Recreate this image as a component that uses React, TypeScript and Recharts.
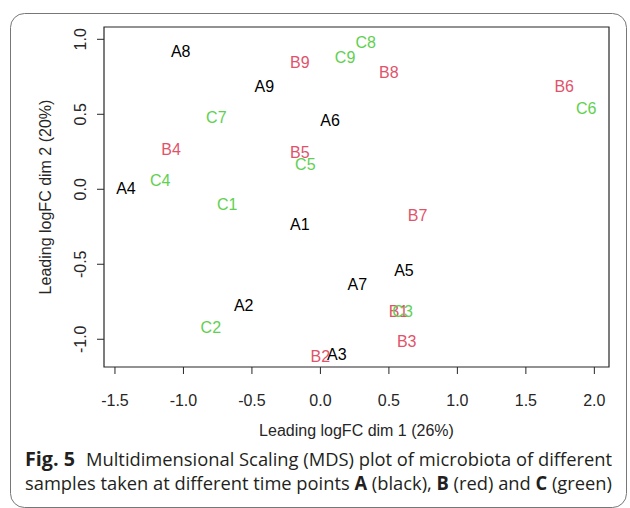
import React from 'react';
import { ScatterChart, Scatter, XAxis, YAxis, ReferenceArea } from 'recharts';

// MDS coordinates (dim 1 = x, dim 2 = y), samples 1..9
const aDim1 = [-0.15, -0.56, 0.12, -1.42, 0.61, 0.07, 0.27, -1.02, -0.41];
const aDim2 = [-0.23, -0.77, -1.1, 0.01, -0.54, 0.46, -0.63, 0.92, 0.69];
const bDim1 = [0.57, 0.0, 0.63, -1.09, -0.15, 1.78, 0.71, 0.5, -0.15];
const bDim2 = [-0.81, -1.11, -1.01, 0.27, 0.25, 0.69, -0.17, 0.78, 0.85];
const cDim1 = [-0.68, -0.8, 0.6, -1.17, -0.11, 1.94, -0.76, 0.33, 0.18];
const cDim2 = [-0.1, -0.92, -0.81, 0.06, 0.17, 0.54, 0.48, 0.98, 0.88];

const xTicks = [-1.5, -1.0, -0.5, 0, 0.5, 1.0, 1.5, 2.0];
const yTicks = [-1.0, -0.5, 0, 0.5, 1.0];
const xDomain = [-1.58, 2.107];
const yDomain = [-1.185, 1.082];

const build = (prefix: string, xs: number[], ys: number[]) =>
  xs.map((x, i) => ({ x, y: ys[i], name: `${prefix}${i + 1}` }));

const groupA = build('A', aDim1, aDim2);
const groupB = build('B', bDim1, bDim2);
const groupC = build('C', cDim1, cDim2);

const FONT = '"Liberation Sans", Arial, sans-serif';
const CAPTION_FONT = '"Open Sans", sans-serif';
const AXIS_INK = '#262626';

const makeLabel = (color: string) => (props: any) => {
  const { cx, cy, payload } = props;
  return (
    <text x={cx} y={cy} dy="0.36em" textAnchor="middle" fill={color} fontFamily={FONT} fontSize={16}>
      {payload.name}
    </text>
  );
};

const XTick = (props: any) => {
  const { x, payload } = props;
  return (
    <text x={x} y={406} textAnchor="middle" fill={AXIS_INK} fontFamily={FONT} fontSize={16}>
      {payload.value.toFixed(1)}
    </text>
  );
};

const YTick = (props: any) => {
  const { y, payload } = props;
  return (
    <text x={86} y={y} textAnchor="middle" transform={`rotate(-90, 86, ${y})`} fill={AXIS_INK} fontFamily={FONT} fontSize={16}>
      {payload.value.toFixed(1)}
    </text>
  );
};

export default function App() {
  return (
    <div style={{ position: 'fixed', left: 0, top: 0, width: 630, height: 508, background: '#fff' }}>
      <ScatterChart width={630} height={508} margin={{ top: 27, right: 21, bottom: 0, left: 0 }}>
        <XAxis
          type="number"
          dataKey="x"
          domain={xDomain}
          ticks={xTicks}
          allowDataOverflow
          height={141}
          tickSize={7}
          axisLine={false}
          tickLine={{ stroke: AXIS_INK }}
          tick={<XTick />}
          label={{
            content: () => (
              <text x={356.5} y={436} textAnchor="middle" fill={AXIS_INK} fontFamily={FONT} fontSize={16}>
                Leading logFC dim 1 (26%)
              </text>
            ),
          }}
        />
        <YAxis
          type="number"
          dataKey="y"
          domain={yDomain}
          ticks={yTicks}
          allowDataOverflow
          width={104}
          tickSize={7}
          axisLine={false}
          tickLine={{ stroke: AXIS_INK }}
          tick={<YTick />}
          label={{
            content: () => (
              <text x={51} y={197} textAnchor="middle" transform="rotate(-90, 51, 197)" fill={AXIS_INK} fontFamily={FONT} fontSize={16}>
                Leading logFC dim 2 (20%)
              </text>
            ),
          }}
        />
        <ReferenceArea
          x1={xDomain[0]}
          x2={xDomain[1]}
          y1={yDomain[0]}
          y2={yDomain[1]}
          fill="none"
          stroke={AXIS_INK}
          strokeWidth={1.2}
          ifOverflow="visible"
        />
        <Scatter data={groupA} fill="#000000" shape={makeLabel('#000000')} isAnimationActive={false} />
        <Scatter data={groupB} fill="#DF536B" shape={makeLabel('#DF536B')} isAnimationActive={false} />
        <Scatter data={groupC} fill="#61D04F" shape={makeLabel('#61D04F')} isAnimationActive={false} />
      </ScatterChart>
      <svg width={630} height={508} style={{ position: 'absolute', left: 0, top: 0, pointerEvents: 'none' }}>
        <rect x={10.5} y={13.5} width={616} height={494} rx={14} fill="none" stroke="#777" />
        <text x={25} y={466} fontFamily={CAPTION_FONT} fontSize={20} fontWeight="bold" fill="#231F20" textLength={50} lengthAdjust="spacingAndGlyphs">
          Fig. 5
        </text>
        <text x={86} y={466} fontFamily={CAPTION_FONT} fontSize={19} fill="#231F20" textLength={526} lengthAdjust="spacingAndGlyphs">
          Multidimensional Scaling (MDS) plot of microbiota of different
        </text>
        <text x={25} y={490} fontFamily={CAPTION_FONT} fontSize={19} fill="#231F20" textLength={587} lengthAdjust="spacingAndGlyphs">
          samples taken at different time points <tspan fontWeight="bold">A</tspan> (black), <tspan fontWeight="bold">B</tspan> (red) and{' '}
          <tspan fontWeight="bold">C</tspan> (green)
        </text>
      </svg>
    </div>
  );
}
